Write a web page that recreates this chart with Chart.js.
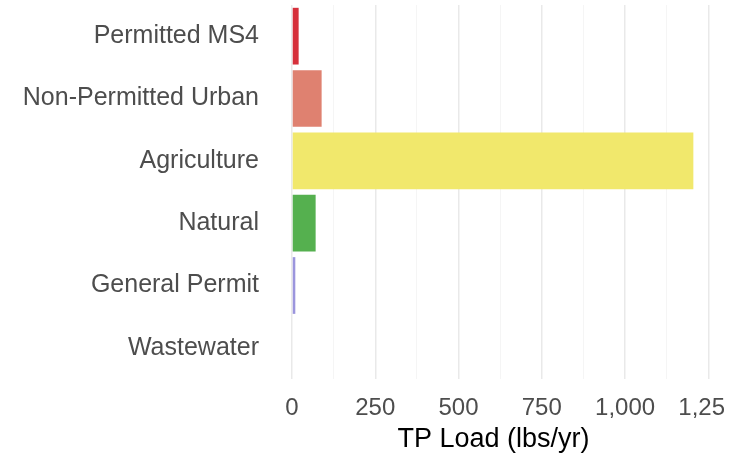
<!DOCTYPE html>
<html>
<head>
<meta charset="utf-8">
<script src="https://cdn.jsdelivr.net/npm/chart.js@4/dist/chart.umd.min.js"></script>
<style>
  html, body { margin: 0; padding: 0; background: #ffffff; overflow: hidden; }
  #wrap { width: 724px; height: 457px; overflow: hidden; background: #ffffff; }
  canvas { display: block; }
</style>
</head>
<body>
<div id="wrap"><canvas id="c" width="800" height="457"></canvas></div>
<script>
const categories = ["Permitted MS4", "Non-Permitted Urban", "Agriculture", "Natural", "General Permit", "Wastewater"];
const tpLoad = [20, 89, 1205, 71, 10, 0];
const barColors = ["#d6303b", "#df8170", "#f1e86c", "#55b04f", "#9b95dd", "#8da0cb"];
const labeledTicks = [0, 250, 500, 750, 1000, 1250];
const axisTitle = "TP Load (lbs/yr)";

new Chart(document.getElementById('c'), {
  type: 'bar',
  data: {
    labels: categories,
    datasets: [{
      data: tpLoad,
      backgroundColor: barColors,
      borderWidth: 0,
      barPercentage: 0.91,
      categoryPercentage: 1.0
    }]
  },
  options: {
    indexAxis: 'y',
    responsive: false,
    animation: false,
    layout: { padding: { top: 5, right: 85, bottom: 0, left: 0 } },
    plugins: { legend: { display: false }, tooltip: { enabled: false } },
    scales: {
      x: {
        type: 'linear',
        min: -60,
        max: 1270,
        border: { display: false },
        grid: {
          drawTicks: false,
          color: (ctx) => (ctx.tick && labeledTicks.includes(ctx.tick.value)) ? '#e9e9e9' : '#f5f5f5',
          lineWidth: (ctx) => (ctx.tick && labeledTicks.includes(ctx.tick.value)) ? 1.5 : 1
        },
        ticks: {
          stepSize: 125,
          includeBounds: false,
          autoSkip: false,
          maxRotation: 0,
          padding: 15,
          color: '#4d4d4d',
          font: { family: 'Liberation Sans, Arial, sans-serif', size: 24 },
          callback: (v) => labeledTicks.includes(v) ? v.toLocaleString('en-US') : ''
        },
        title: {
          display: true,
          text: axisTitle,
          color: '#000000',
          padding: { top: 0, bottom: 1 },
          font: { family: 'Liberation Sans, Arial, sans-serif', size: 27 }
        },
        afterFit: (s) => { s.height = 78; s.paddingLeft = 0; s.paddingRight = 0; }
      },
      y: {
        border: { display: false },
        grid: { display: false, drawTicks: false },
        ticks: {
          padding: 13,
          color: '#4d4d4d',
          font: { family: 'Liberation Sans, Arial, sans-serif', size: 25 }
        },
        afterFit: (s) => { s.width = 272; s.paddingTop = 0; s.paddingBottom = 0; }
      }
    }
  }
});
</script>
</body>
</html>
